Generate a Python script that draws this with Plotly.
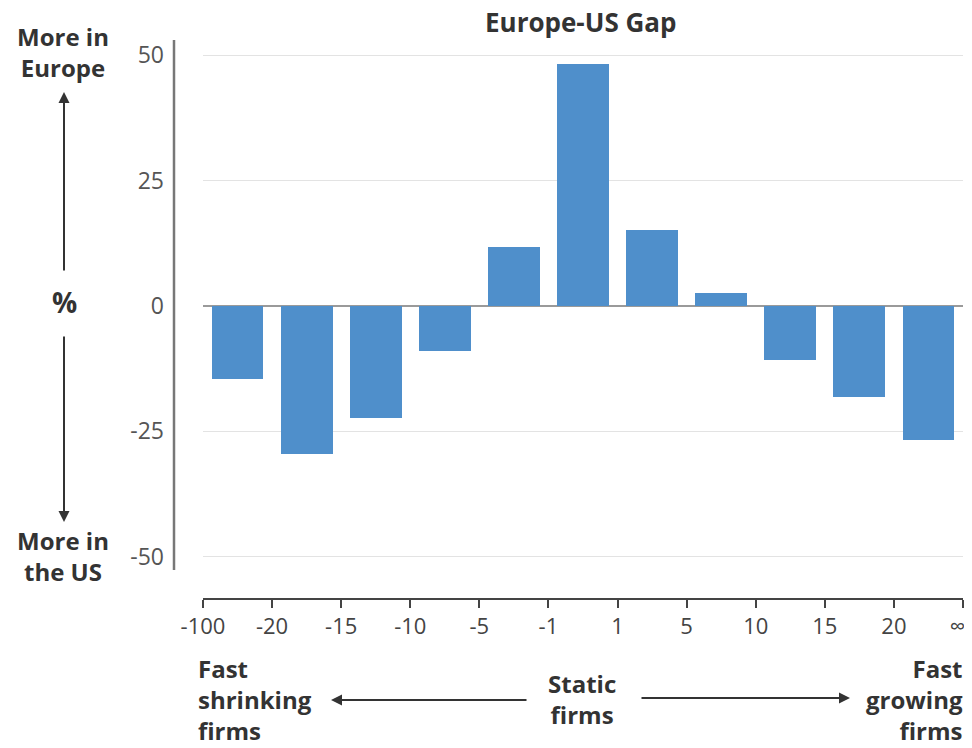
import plotly.graph_objects as go

# ---- data ----
bin_edges_labels = ["-100", "-20", "-15", "-10", "-5", "-1", "1", "5", "10", "15", "20", "∞\u2002"]
gap_values = [-14.5, -29.6, -22.4, -8.9, 11.7, 48.3, 15.1, 2.5, -10.7, -18.2, -26.8]
y_ticks = [-50, -25, 0, 25, 50]

# page body has an 8px margin; work in reference pixel coordinates
OX, OY = 8, 8
W, H = 956, 732
L = 203 - OX
T = 40 - OY
PLOT_RIGHT = 963 - OX
PLOT_BOTTOM = 598 - OY
R = W - PLOT_RIGHT
B = H - PLOT_BOTTOM
PW, PH = W - L - R, H - T - B


def px(x):
    return (x - OX - L) / PW


def py(y):
    return (H - B - (y - OY)) / PH


FONT = "Open Sans"
DARK = "#333333"

n = len(gap_values)
fig = go.Figure()
fig.add_trace(go.Bar(
    x=[i + 0.5 for i in range(n)],
    y=gap_values,
    width=0.75,
    marker=dict(color="#4f8fcb", line=dict(width=0)),
    hoverinfo="y",
))

fig.update_layout(
    width=W, height=H,
    margin=dict(l=L, r=R, t=T, b=B, pad=0, autoexpand=False),
    paper_bgcolor="white", plot_bgcolor="white",
    showlegend=False,
    font=dict(family=FONT, color=DARK),
    bargap=0,
)
fig.update_xaxes(
    range=[0, n],
    tickmode="array",
    tickvals=list(range(len(bin_edges_labels))),
    ticktext=bin_edges_labels,
    showgrid=False, zeroline=False,
    showline=True, linecolor="#444444", linewidth=1.5,
    ticks="outside", ticklen=8, tickcolor="#444444", tickwidth=1.5,
    tickfont=dict(size=22, color="#444444", family=FONT),
    ticklabeloverflow="allow",
    automargin=False,
    fixedrange=True,
)
fig.update_yaxes(
    range=[-58.2, 53],
    tickmode="array",
    tickvals=y_ticks,
    ticktext=[str(v) for v in y_ticks],
    showgrid=True, gridcolor="#e3e3e3", gridwidth=1,
    zeroline=True, zerolinecolor="#9a9a9a", zerolinewidth=1.5,
    showline=False, ticks="",
    ticklabelstandoff=38,
    tickfont=dict(size=23, color="#555555", family=FONT),
    automargin=False,
    fixedrange=True,
)

# vertical axis line left of plot
fig.add_shape(type="line", xref="paper", yref="paper",
              x0=px(174), x1=px(174), y0=py(40), y1=py(570),
              line=dict(color="#777777", width=2.5))

anns = []


def label(text, x, y, size=24, xanchor="center", align="center"):
    anns.append(dict(text="<b>%s</b>" % text, x=px(x), y=py(y), xref="paper", yref="paper",
                     showarrow=False, font=dict(size=size, color=DARK),
                     xanchor=xanchor, yanchor="middle", align=align))


label("Europe-US Gap", 580, 22, size=26)
label("More in<br>Europe", 63, 52)
label("%", 64, 302, size=28)
label("More in<br>the US", 63, 556)
label("Fast<br>shrinking<br>firms", 196, 699, xanchor="left", align="left")
label("Static<br>firms", 582, 699)
label("Fast<br>growing<br>firms", 965, 699, xanchor="right", align="right")


# arrows
def arrow(hx, hy, tx, ty):
    anns.append(dict(text="", x=px(hx), y=py(hy), xref="paper", yref="paper",
                     ax=tx - hx, ay=ty - hy, axref="pixel", ayref="pixel",
                     showarrow=True, arrowhead=2, arrowsize=1.1, arrowwidth=2, arrowcolor=DARK))


arrow(64, 92, 64, 272)
arrow(64, 522, 64, 335)
arrow(331, 700, 528, 700)
arrow(850, 698, 640, 698)

fig.update_layout(annotations=anns)
fig.write_html("out.html")
